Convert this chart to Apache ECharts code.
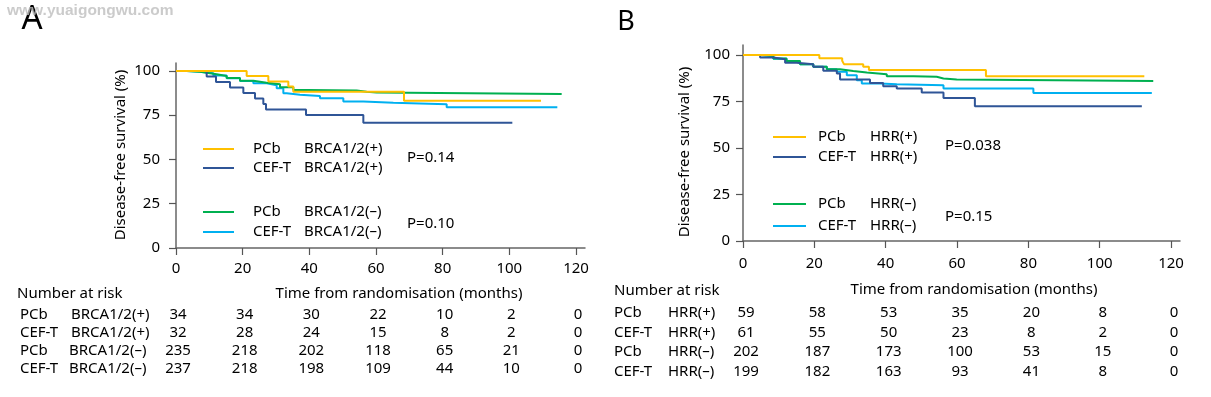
<!DOCTYPE html>
<html>
<head>
<meta charset="utf-8">
<script src="https://cdn.jsdelivr.net/npm/echarts@6/dist/echarts.min.js"></script>
<style>
html, body { margin: 0; padding: 0; background: #fff; }
#chart { width: 1211px; height: 397px; }
</style>
</head>
<body>
<div id="chart"></div>
<script>
// Kaplan-Meier steps: [months, survival %]
const pcbBrcaPos = [[0,100],[21.2,97.1],[27.7,94.1],[33.7,91.2],[35.2,88.2],[68.4,83.2],[109.5,83.2]];
const cefBrcaPos = [[0,100],[9.2,96.9],[12,93.8],[16.2,90.6],[20.2,87.5],[23.7,84.4],[26.2,81.3],[27,78.2],[39,75.1],[56.2,70.8],[100.9,70.8]];
const pcbBrcaNeg = [[0,100],[3.2,99.6],[7.2,99],[9.2,98.1],[12.2,97.2],[15.2,96],[19.2,94.5],[23.2,93.4],[27.2,92.5],[31.2,90.8],[35.2,89.3],[39.2,88.9],[54.2,88.3],[57.2,87.8],[60.2,87],[115.7,87]];
const cefBrcaNeg = [[0,100],[3.2,99.6],[7.2,98.7],[11.2,97.4],[15.2,95.9],[19.2,94.4],[23.2,93],[27.2,91.9],[30.2,90.2],[32.2,87.4],[33.2,86.5],[37.2,85.9],[43.2,84.6],[50.2,82.7],[56.2,82.1],[65.2,81.2],[81.2,79.5],[114.4,79.5]];

const pcbHrrPos = [[0,100],[21.4,98.3],[27.8,96.9],[28.3,95.1],[33.7,93.7],[35.3,91.9],[68.1,88.6],[112.5,88.6]];
const cefHrrPos = [[0,100],[4.8,98.7],[8.5,97.7],[11.8,95.9],[15,95],[19.7,93.7],[22.5,91.5],[26.3,90.1],[27.2,86.8],[35.6,85],[39.3,83.2],[43.1,82],[50.1,79.8],[56.2,76.9],[65,72.4],[111.8,72.4]];
const pcbHrrNeg = [[0,100],[4.8,99.5],[8.5,98.2],[12.2,96.8],[16,95.1],[19.7,93.7],[23.5,92.3],[27.2,91.4],[30.9,90.6],[34.7,89.7],[40.3,88.6],[47.8,88.3],[54.3,87.4],[56.2,86.8],[59.9,86.1],[115,86.1]];
const cefHrrNeg = [[0,100],[4.8,99.5],[8.5,98],[12.2,96.4],[16,95],[19.7,93.7],[23.5,92.3],[26.3,91],[29.1,89.2],[31.9,86.5],[33.3,84.7],[38.4,84.3],[43.1,83.8],[56.2,82],[81.4,79.6],[114.6,79.6]];

const xTicks = [0, 20, 40, 60, 80, 100, 120];
const yTicks = [0, 25, 50, 75, 100];

// number at risk, one value per x tick
const riskPcbBrcaPos = [34, 34, 30, 22, 10, 2, 0];
const riskCefBrcaPos = [32, 28, 24, 15, 8, 2, 0];
const riskPcbBrcaNeg = [235, 218, 202, 118, 65, 21, 0];
const riskCefBrcaNeg = [237, 218, 198, 109, 44, 10, 0];
const riskPcbHrrPos = [59, 58, 53, 35, 20, 8, 0];
const riskCefHrrPos = [61, 55, 50, 23, 8, 2, 0];
const riskPcbHrrNeg = [202, 187, 173, 100, 53, 15, 0];
const riskCefHrrNeg = [199, 182, 163, 93, 41, 8, 0];

const arms = ['PCb', 'CEF-T', 'PCb', 'CEF-T'];
const brcaGroups = ['BRCA1/2(+)', 'BRCA1/2(+)', 'BRCA1/2(–)', 'BRCA1/2(–)'];
const hrrGroups = ['HRR(+)', 'HRR(+)', 'HRR(–)', 'HRR(–)'];
const pValuesA = ['P=0.14', 'P=0.10'];
const pValuesB = ['P=0.038', 'P=0.15'];

const colors = ['#FFC000', '#2F5597', '#00B050', '#00B0F0'];
const FONT = '"Noto Sans", sans-serif';
const TXT = '#000';

const chart = echarts.init(document.getElementById('chart'));

function xAxisOf(i, max, margin) {
  return {
    type: 'value', gridIndex: i, min: 0, max: max,
    axisLine: { show: true, lineStyle: { color: '#666', width: 1.5 } },
    axisTick: { show: true, length: 7, customValues: xTicks, lineStyle: { color: '#555', width: 1.2 } },
    axisLabel: { customValues: xTicks, margin: margin, fontSize: 15, color: TXT, fontFamily: FONT },
    splitLine: { show: false }
  };
}
function yAxisOf(i, max, margin) {
  return {
    type: 'value', gridIndex: i, min: 0, max: max,
    axisLine: { show: true, lineStyle: { color: '#666', width: 1.5 } },
    axisTick: { show: true, length: 7, customValues: yTicks, lineStyle: { color: '#555', width: 1.2 } },
    axisLabel: { customValues: yTicks, margin: margin, fontSize: 15, color: TXT, fontFamily: FONT },
    splitLine: { show: false }
  };
}
function km(data, idx, color) {
  return {
    type: 'line', step: 'end', data: data, xAxisIndex: idx, yAxisIndex: idx,
    showSymbol: false, symbol: 'none', silent: true,
    lineStyle: { color: color, width: 2 }
  };
}

chart.setOption({
  animation: false,
  grid: [
    { left: 176, top: 63, width: 409, height: 185 },
    { left: 743, top: 45, width: 437, height: 196 }
  ],
  xAxis: [xAxisOf(0, 122.7, 13), xAxisOf(1, 122.5, 15)],
  yAxis: [yAxisOf(0, 104.5, 16), yAxisOf(1, 105.4, 13)],
  series: [
    km(cefBrcaNeg, 0, colors[3]),
    km(pcbBrcaNeg, 0, colors[2]),
    km(cefBrcaPos, 0, colors[1]),
    km(pcbBrcaPos, 0, colors[0]),
    km(cefHrrNeg, 1, colors[3]),
    km(pcbHrrNeg, 1, colors[2]),
    km(cefHrrPos, 1, colors[1]),
    km(pcbHrrPos, 1, colors[0])
  ]
});

function txt(s, x, y, size, opts) {
  opts = opts || {};
  return {
    type: 'text', x: x, y: y, rotation: opts.rot || 0, z: 10,
    style: {
      text: s, fill: opts.fill || TXT,
      font: (opts.weight || 'normal') + ' ' + size + 'px ' + (opts.family || FONT),
      align: opts.align || 'left', textAlign: opts.align || 'left',
      verticalAlign: 'middle', textVerticalAlign: 'middle'
    }
  };
}
function seg(x1, x2, y, color) {
  return { type: 'line', z: 10, shape: { x1: x1, y1: y, x2: x2, y2: y }, style: { stroke: color, lineWidth: 2 } };
}

const g = [];
// panel letters and watermark
g.push(txt('A', 32, 20, 33, { align: 'center' }));
g.push(txt('B', 626, 22, 27, { align: 'center' }));
g.push(txt('www.yuaigongwu.com', 7, 11, 15.5, { fill: 'rgba(190,190,190,0.8)', weight: 'bold', family: '"Liberation Sans", Arial' }));

// axis titles
g.push(txt('Disease-free survival (%)', 121, 155, 15, { align: 'center', rot: Math.PI / 2 }));
g.push(txt('Disease-free survival (%)', 685, 152, 15, { align: 'center', rot: Math.PI / 2 }));
g.push(txt('Time from randomisation (months)', 399, 294, 15, { align: 'center' }));
g.push(txt('Time from randomisation (months)', 974, 290, 15, { align: 'center' }));

// in-plot legends
const legA = [149, 168, 212, 232];
legA.forEach(function (y, i) {
  g.push(seg(203, 234, y, colors[i]));
  g.push(txt(arms[i], 253, y, 15));
  g.push(txt(brcaGroups[i], 304, y, 15));
});
g.push(txt(pValuesA[0], 407, 158, 15));
g.push(txt(pValuesA[1], 407, 224, 15));

const legB = [137, 157, 204, 226];
legB.forEach(function (y, i) {
  g.push(seg(773, 806, y, colors[i]));
  g.push(txt(arms[i], 818, y, 15));
  g.push(txt(hrrGroups[i], 870, y, 15));
});
g.push(txt(pValuesB[0], 945, 146, 15));
g.push(txt(pValuesB[1], 945, 217, 15));

// number-at-risk tables, columns placed on the x axis scale
const rowsA = [riskPcbBrcaPos, riskCefBrcaPos, riskPcbBrcaNeg, riskCefBrcaNeg];
const rowsB = [riskPcbHrrPos, riskCefHrrPos, riskPcbHrrNeg, riskCefHrrNeg];
const rowYA = [315, 333, 351, 369];
const rowYB = [313, 333, 352, 372];

g.push(txt('Number at risk', 17, 294, 15));
rowsA.forEach(function (row, r) {
  g.push(txt(arms[r], 20, rowYA[r], 15));
  g.push(txt(brcaGroups[r], r < 2 ? 71 : 69, rowYA[r], 15));
  row.forEach(function (v, c) {
    const px = chart.convertToPixel({ xAxisIndex: 0 }, xTicks[c]);
    g.push(txt(String(v), px + 2, rowYA[r], 15, { align: 'center' }));
  });
});

g.push(txt('Number at risk', 614, 291, 15));
rowsB.forEach(function (row, r) {
  g.push(txt(arms[r], 614, rowYB[r], 15));
  g.push(txt(hrrGroups[r], 668, rowYB[r], 15));
  row.forEach(function (v, c) {
    const px = chart.convertToPixel({ xAxisIndex: 1 }, xTicks[c]);
    g.push(txt(String(v), px + 3, rowYB[r], 15, { align: 'center' }));
  });
});

chart.setOption({ graphic: { elements: g } });
</script>
</body>
</html>
